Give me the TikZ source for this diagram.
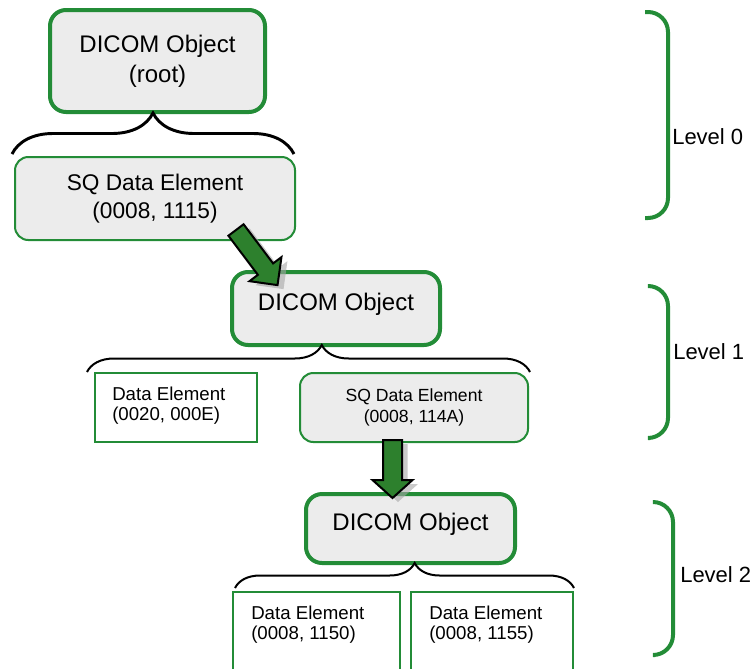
\documentclass[tikz,border=0pt]{standalone}
\usepackage{fontspec}
\setmainfont{Liberation Sans}
\usepackage{xcolor}
\usepackage{tikz}
\usetikzlibrary{positioning,calc,decorations.pathreplacing}
\definecolor{DcmGreen}{RGB}{35,140,55}
\definecolor{ArrGreen}{RGB}{45,128,45}
\definecolor{BoxGray}{RGB}{236,236,236}

\begin{document}
\begin{tikzpicture}[x=0.75pt,y=-0.75pt]
	\tikzset{
		obj/.style={rectangle, rounded corners=12pt, draw=DcmGreen, line width=3pt, fill=BoxGray,
			align=center, font=\fontsize{18}{22.5}\selectfont},
		sq/.style={rectangle, rounded corners=10pt, draw=DcmGreen, line width=1.5pt, fill=BoxGray, align=center},
		de/.style={rectangle, draw=DcmGreen, line width=1.5pt, fill=white},
		detxt/.style={anchor=north west, align=left, inner sep=0pt, font=\fontsize{14}{15}\selectfont},
		br/.style={decorate, draw=black, line width=1.5pt},
		lvbr/.style={draw=DcmGreen, line width=3pt, rounded corners=15pt},
		lv/.style={anchor=west, inner sep=0pt, font=\fontsize{16.5}{20}\selectfont},
		blk/.style={draw=black, line width=1.5pt, fill=ArrGreen, line join=miter},
		blkshadow/.style={fill=black!35, opacity=0.6}
	}
	\useasboundingbox (0,0) rectangle (752,668);
	
	% level 0
	\node[obj, minimum width=161.25pt, minimum height=76.5pt] (root) at (157.5,61) {DICOM Object\\(root)};
	\draw[br, line width=2.2pt, decoration={brace, amplitude=30.75pt}] (12,154) -- (294,154);
	\node[sq, minimum width=210pt, minimum height=62.25pt, font=\fontsize{17}{21}\selectfont] (sq0) at (155,198.5) {SQ Data Element\\(0008, 1115)};
	
	% level 1
	\node[obj, minimum width=156pt, minimum height=54.75pt, text depth=10pt] (obj1) at (336,308.5) {DICOM Object};
	\draw[br, decoration={brace, amplitude=20.25pt, aspect=0.53}] (87,372) -- (530,372);
	\node[de, minimum width=121.5pt, minimum height=51.75pt] (de1) at (176,407.5) {};
	\node[detxt] (de1t) at ($(de1.north west)+(18,15)$) {Data Element\\(0020, 000E)};
	\node[sq, minimum width=171pt, minimum height=51.75pt, font=\fontsize{13.2}{15.75}\selectfont] (sq1) at (414,407.5) {SQ Data Element\\(0008, 114A)};
	
	% level 2
	\node[obj, minimum width=156.75pt, minimum height=51.75pt, text depth=10pt] (obj2) at (410.5,528.5) {DICOM Object};
	\draw[br, decoration={brace, amplitude=18.75pt, aspect=0.53}] (235,588) -- (574,588);
	\node[de, minimum width=125.25pt, minimum height=66pt] (de2) at (316.5,636) {};
	\node[detxt] (de2t) at ($(de2.north west)+(19,15)$) {Data Element\\(0008, 1150)};
	\node[de, minimum width=121.5pt, minimum height=66pt] (de3) at (492,636) {};
	\node[detxt] (de3t) at ($(de3.north west)+(19,15)$) {Data Element\\(0008, 1155)};
	
	% block arrows
	\begin{scope}[shift={(242,234)}, rotate=-53]
		\fill[blkshadow] (0,-9.5) -- (49,-9.5) -- (49,-20) -- (69,0) -- (49,20) -- (49,9.5) -- (0,9.5) -- cycle;
	\end{scope}
	\begin{scope}[shift={(236,230)}, rotate=-53]
		\draw[blk] (0,-9.5) -- (49,-9.5) -- (49,-20) -- (69,0) -- (49,20) -- (49,9.5) -- (0,9.5) -- cycle;
	\end{scope}
	\begin{scope}[shift={(398,444)}, rotate=-90]
		\fill[blkshadow] (0,-9.5) -- (40,-9.5) -- (40,-20) -- (58,0) -- (40,20) -- (40,9.5) -- (0,9.5) -- cycle;
	\end{scope}
	\begin{scope}[shift={(392.5,440)}, rotate=-90]
		\draw[blk] (0,-9.5) -- (40,-9.5) -- (40,-20) -- (58,0) -- (40,20) -- (40,9.5) -- (0,9.5) -- cycle;
	\end{scope}
	
	% level brackets
	\draw[lvbr] (645,12) -- (668,12) -- (668,218) -- (645,218);
	\node[lv] (lv0) at (672,137) {Level 0};
	\draw[lvbr] (650,286) -- (668,286) -- (668,438) -- (650,438);
	\node[lv] (lv1) at (673,352) {Level 1};
	\draw[lvbr] (655,502) -- (673,502) -- (673,655) -- (655,655);
	\node[lv] (lv2) at (680,575) {Level 2};
\end{tikzpicture}
\end{document}
